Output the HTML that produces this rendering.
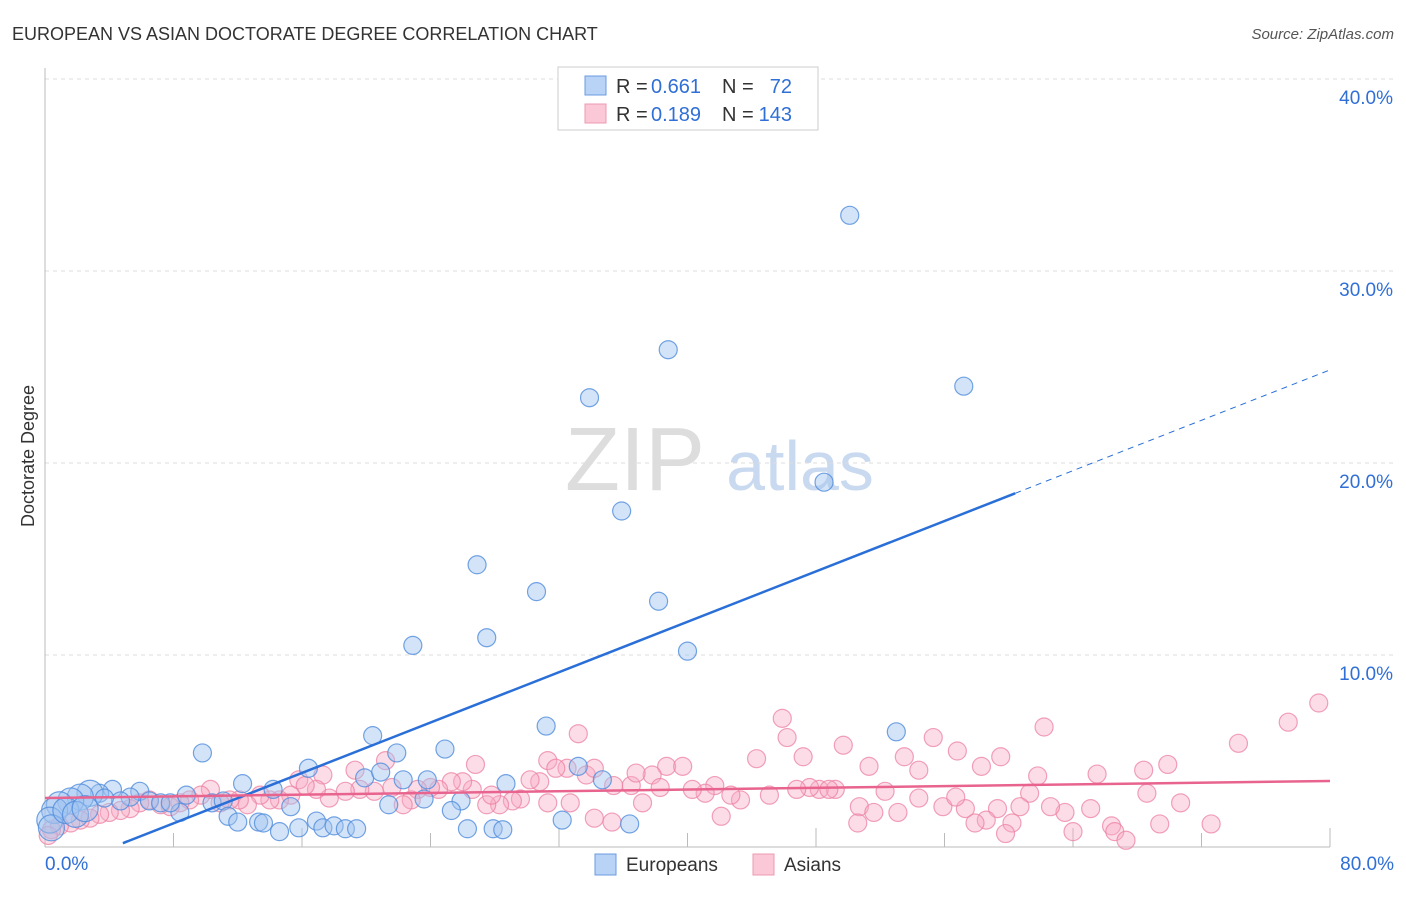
<!DOCTYPE html>
<html><head><meta charset="utf-8"><style>
body{margin:0;background:#fff;font-family:"Liberation Sans",sans-serif}
svg text{font-family:"Liberation Sans",sans-serif}
</style></head><body>
<svg id="chart" width="1406" height="892" xmlns="http://www.w3.org/2000/svg">
<text x="12" y="40" font-size="18" fill="#333">EUROPEAN VS ASIAN DOCTORATE DEGREE CORRELATION CHART</text>
<text x="1394" y="39" font-size="15" fill="#555" font-style="italic" text-anchor="end">Source: ZipAtlas.com</text>
<text x="34" y="456" font-size="18" fill="#333" transform="rotate(-90 34 456)" text-anchor="middle">Doctorate Degree</text>
<g><text x="635" y="490" font-size="90" fill="#ddd" font-family="Liberation Serif" text-anchor="middle">ZIP</text><text x="800" y="490" font-size="70" fill="#c9d9ef" text-anchor="middle">atlas</text></g>
<g id="grid"></g><g id="axes"></g><g id="pts"></g><g id="lines"></g>
<g>
<rect x="558" y="67" width="260" height="63" fill="#fff" stroke="#ccc"/>
<rect x="585" y="76" width="21" height="19" fill="#b8d3f5" stroke="#6a9be0"/>
<rect x="585" y="104" width="21" height="19" fill="#fbc8d7" stroke="#ee9ab3"/>
<text x="616" y="93" font-size="20" fill="#333">R =</text>
<text x="651" y="93" font-size="20" fill="#2f6fd6">0.661</text>
<text x="722" y="93" font-size="20" fill="#333">N =</text>
<text x="792" y="93" font-size="20" fill="#2f6fd6" text-anchor="end">72</text>
<text x="616" y="121" font-size="20" fill="#333">R =</text>
<text x="651" y="121" font-size="20" fill="#2f6fd6">0.189</text>
<text x="722" y="121" font-size="20" fill="#333">N =</text>
<text x="792" y="121" font-size="20" fill="#2f6fd6" text-anchor="end">143</text>
</g>
<g>
<rect x="595" y="854" width="21" height="21" fill="#b8d3f5" stroke="#6a9be0"/>
<text x="626" y="871" font-size="19" fill="#333">Europeans</text>
<rect x="753" y="854" width="21" height="21" fill="#fbc8d7" stroke="#ee9ab3"/>
<text x="784" y="871" font-size="19" fill="#333">Asians</text>
</g>
</svg>
<script>
const yTicks=[10,20,30,40];
const yTickLabels=["10.0%","20.0%","30.0%","40.0%"];
const xTickLabels=["0.0%","80.0%"];
const euroX=[50.1,38.8,33.9,57.2,48.5,35.9,26.9,30.6,38.2,27.5,22.9,40.0,9.8,20.4,31.2,53.0,24.9,21.9,16.4,33.2,12.3,14.2,22.3,23.8,19.9,20.9,28.7,34.7,8.8,10.4,11.1,15.3,21.4,23.6,25.9,8.4,11.4,12.0,13.3,13.6,14.6,15.8,16.9,17.3,18.0,18.7,19.4,25.3,26.3,27.9,28.5,32.2,36.4,4.2,3.4,2.8,2.2,1.6,0.9,0.6,0.3,0.4,5.9,5.3,4.7,6.5,7.2,7.8,1.3,1.9,2.5,3.7];
const euroY=[32.9,25.9,23.4,24.0,19.0,17.5,14.7,13.3,12.8,10.9,10.5,10.2,4.9,5.8,6.3,6.0,5.1,4.9,4.1,4.2,3.3,3.0,3.5,3.5,3.6,3.9,3.3,3.5,2.7,2.3,2.4,2.1,2.2,2.5,2.4,1.8,1.6,1.3,1.3,1.25,0.8,1.0,1.35,1.0,1.1,0.95,0.95,1.9,0.95,0.95,0.9,1.4,1.2,3.0,2.8,2.8,2.6,2.4,2.2,1.9,1.4,1.0,2.9,2.6,2.4,2.4,2.3,2.3,1.9,1.7,2.0,2.55];
const asiaX=[79.3,77.4,74.3,62.2,45.9,33.2,49.7,55.3,53.5,56.8,59.5,44.3,46.2,47.2,31.3,26.8,21.2,19.3,17.3,15.8,69.9,68.4,65.5,61.8,58.3,51.3,54.4,61.3,68.6,70.7,72.6,69.4,66.4,64.0,66.6,65.1,63.5,62.6,60.7,59.3,58.6,57.3,55.9,54.4,52.3,50.7,49.2,48.2,48.8,47.6,46.8,45.1,43.3,42.7,42.1,41.7,41.1,40.3,38.7,39.7,37.8,36.5,36.8,35.4,33.7,32.5,31.8,34.2,30.8,30.2,29.6,29.1,28.3,27.5,27.8,26.6,26.0,25.3,24.5,24.0,23.2,22.8,22.3,21.6,20.5,19.6,18.7,17.7,16.9,16.2,15.3,14.6,14.0,13.4,12.6,12.1,11.5,10.9,10.3,9.7,9.0,8.4,7.8,7.2,6.5,5.9,5.3,4.7,4.0,3.4,2.8,2.2,1.6,0.9,0.4,0.2,34.2,35.3,37.2,31.3,32.7,50.6,51.6,53.1,57.9,60.2,59.8,56.7,67.3,38.3];
const asiaY=[7.5,6.5,5.4,6.25,6.7,5.9,5.3,5.7,4.7,5.0,4.7,4.6,5.7,4.7,4.5,4.3,4.5,4.0,3.75,3.5,4.3,4.0,3.8,3.7,4.2,4.2,4.0,2.8,2.8,2.3,1.2,1.2,1.1,0.8,0.8,2.0,1.8,2.1,2.1,2.0,1.4,2.0,2.1,2.55,2.9,2.1,3.0,3.0,3.0,3.1,3.0,2.7,2.45,2.7,1.6,3.2,2.8,3.0,4.2,4.2,3.75,3.2,3.85,3.2,3.75,4.1,4.1,4.1,3.4,3.5,2.5,2.4,2.2,2.2,2.7,3.0,3.4,3.4,3.0,3.1,3.0,2.45,2.2,3.1,2.9,3.0,2.9,2.55,3.0,3.2,2.7,2.45,2.45,2.7,2.2,2.45,2.45,2.3,3.0,2.7,2.45,2.3,2.1,2.2,2.45,2.3,2.0,1.9,1.8,1.7,1.5,1.4,1.25,1.1,0.9,0.6,1.5,1.3,2.3,2.3,2.3,1.25,1.8,1.8,1.25,1.25,0.7,2.6,0.35,3.1];
const euroFit=[-1.39,0.328]; // intercept, slope
const asiaFit=[2.55,0.0111];
const X=v=>45+v*(1330-45)/80, Y=v=>847-v*19.2;
const NS="http://www.w3.org/2000/svg";
function mk(tag,attrs,parent){const e=document.createElementNS(NS,tag);for(const k in attrs)e.setAttribute(k,attrs[k]);document.getElementById(parent).appendChild(e);return e;}
yTicks.forEach((t,i)=>{
 const g=mk('line',{x1:45,x2:1394,y1:Y(t),y2:Y(t),stroke:'#ddd','stroke-dasharray':'4,4'},'grid');
 
 
 const tx=mk('text',{x:1393,y:Y(t)+25,'font-size':19,fill:'#2f6fd6','text-anchor':'end'},'axes');
 tx.textContent=yTickLabels[i];
 
 
});
const ax=mk('line',{x1:45,x2:45,y1:68,y2:847,stroke:'#bbb'},'axes');


const bx=mk('line',{x1:45,x2:1330,y1:847,y2:847,stroke:'#bbb'},'axes');


for(let i=1;i<=10;i++){const tk=mk('line',{x1:X(i*8),x2:X(i*8),y1:i%2?833:828,y2:847,stroke:'#bbb'},'axes');
 
 }
[[0,'start',45],[80,'end',1394]].forEach((a,i)=>{const t=mk('text',{x:a[2],y:870,'font-size':19,fill:'#2f6fd6','text-anchor':a[1]},'axes');t.textContent=xTickLabels[i];
 
 });
asiaX.forEach((x,i)=>{const c=mk('circle',{cx:X(x),cy:Y(asiaY[i]),r:9,fill:'rgba(248,170,195,0.4)',stroke:'rgba(236,130,163,0.75)','stroke-width':1.2},'pts');
 
 });
euroX.forEach((x,i)=>{const r=x<3?13:9;const c=mk('circle',{cx:X(x),cy:Y(euroY[i]),r:r,fill:'rgba(160,196,240,0.45)',stroke:'rgba(80,140,220,0.8)','stroke-width':1.2},'pts');
 
 });
const ex0=(0.2-euroFit[0])/euroFit[1];
const l1=mk('line',{x1:X(ex0),y1:Y(euroFit[0]+euroFit[1]*ex0),x2:X(60.4),y2:Y(euroFit[0]+euroFit[1]*60.4),stroke:'#2a6fd8','stroke-width':2.5},'lines');


const l2=mk('line',{x1:X(60.4),y1:Y(euroFit[0]+euroFit[1]*60.4),x2:X(80),y2:Y(euroFit[0]+euroFit[1]*80),stroke:'#2a6fd8','stroke-width':1,'stroke-dasharray':'6,5'},'lines');


const l3=mk('line',{x1:X(0),y1:Y(asiaFit[0]),x2:X(80),y2:Y(asiaFit[0]+asiaFit[1]*80),stroke:'#e8648e','stroke-width':2.5},'lines');


</script>
</body></html>
